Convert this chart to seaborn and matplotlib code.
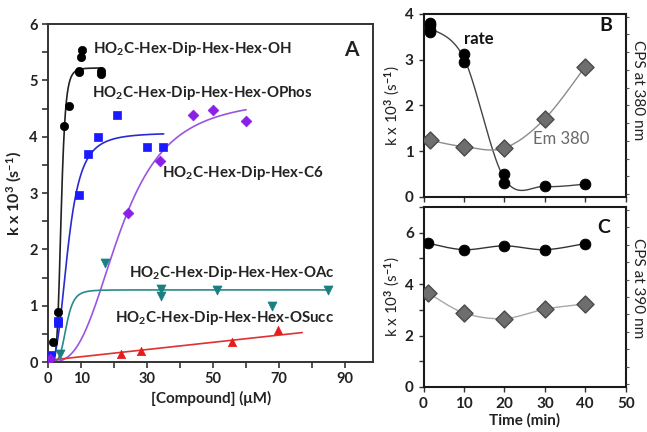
import numpy as np
import pandas as pd
import matplotlib
matplotlib.use("Agg")
import matplotlib.pyplot as plt
import seaborn as sns
from matplotlib.ticker import MultipleLocator, FixedLocator, NullFormatter

# ---------------- Panel A data ----------------
oh_x = [1.5, 3.0, 4.8, 6.3, 9.3, 9.3, 9.8, 10.1, 16.0, 16.0]
oh_y = [0.35, 0.88, 4.19, 4.55, 5.17, 5.15, 5.41, 5.53, 5.17, 5.12]
ophos_x = [0.5, 3.0, 3.0, 9.3, 12.1, 15.0, 21.0, 30.0, 34.8]
ophos_y = [0.12, 0.69, 0.73, 2.96, 3.70, 4.00, 4.38, 3.82, 3.82]
c6_x = [0.5, 24.1, 33.9, 44.0, 49.9, 60.0]
c6_y = [0.06, 2.64, 3.57, 4.38, 4.48, 4.28]
oac_x = [3.5, 17.2, 34.2, 34.2, 51.1, 67.8, 84.7]
oac_y = [0.15, 1.75, 1.29, 1.17, 1.27, 1.00, 1.27]
osucc_x = [22.0, 28.0, 55.8, 69.8]
osucc_y = [0.15, 0.20, 0.36, 0.56]

# Hill fit parameters: (Vmax, K, n, x_end)
oh_fit = [5.22, 3.9, 6.0, 16.2]
ophos_fit = [4.07, 6.0, 3.0, 35.0]
c6_fit = [4.70, 22.0, 3.0, 60.0]
oac_fit = [1.28, 5.5, 5.0, 85.0]
# linear fit: (intercept, slope, x_end)
osucc_fit = [0.03, 0.0064, 77.0]

labels_A = ["HO$_2$C-Hex-Dip-Hex-Hex-OH", "HO$_2$C-Hex-Dip-Hex-Hex-OPhos",
            "HO$_2$C-Hex-Dip-Hex-C6", "HO$_2$C-Hex-Dip-Hex-Hex-OAc",
            "HO$_2$C-Hex-Dip-Hex-Hex-OSucc"]
xticks_A = [0, 10, 30, 50, 70, 90]

# ---------------- Panel B data ----------------
b_rate_t = [1.5, 1.5, 1.5, 1.5, 10, 10, 20, 20, 30, 40]
b_rate = [3.80, 3.75, 3.65, 3.60, 3.13, 2.94, 0.50, 0.30, 0.23, 0.28]
b_em_t = [1.5, 10, 20, 30, 40]
b_em = [1.24, 1.10, 1.07, 1.71, 2.85]

# ---------------- Panel C data ----------------
c_t = [1.2, 10, 20, 30, 40]
c_rate = [5.59, 5.34, 5.49, 5.34, 5.58]
c_em = [3.65, 2.88, 2.66, 3.03, 3.23]

# ---------------- style ----------------
sns.set_style("ticks")
plt.rcParams['font.family'] = ['Lato', 'DejaVu Sans']
plt.rcParams['mathtext.fontset'] = 'custom'
plt.rcParams['mathtext.rm'] = 'Lato:bold'
plt.rcParams['mathtext.bf'] = 'Lato:bold'
plt.rcParams['mathtext.it'] = 'Lato:bold'
plt.rcParams['axes.linewidth'] = 1.4
TXT = '#222222'


def hill(p):
    v, k, n, xe = p
    xs = np.linspace(0, xe, 400)
    return xs, v * xs ** n / (k ** n + xs ** n)


def smooth(x, y, n=40):
    P = np.column_stack([np.asarray(x, float), np.asarray(y, float)])
    pts = np.vstack([P[0], P, P[-1]])
    out = []
    t = np.linspace(0, 1, n)[:, None]
    for i in range(1, len(pts) - 2):
        p0, p1, p2, p3 = pts[i - 1:i + 3]
        seg = 0.5 * ((2 * p1) + (-p0 + p2) * t + (2 * p0 - 5 * p1 + 4 * p2 - p3) * t ** 2
                     + (-p0 + 3 * p1 - 3 * p2 + p3) * t ** 3)
        out.append(seg)
    s = np.vstack(out)
    return s[:, 0], s[:, 1]


fig = plt.figure(figsize=(6.47, 4.32), dpi=100)
axA = fig.add_axes([0.0746, 0.162, 0.5019, 0.7824])
axB = fig.add_axes([0.6546, 0.544, 0.3125, 0.4236])
axC = fig.add_axes([0.6546, 0.1042, 0.3125, 0.4166])

# ---------- Panel A ----------
series = [
    (oh_x, oh_y, oh_fit, 'black', '#222222', 'o', 36),
    (ophos_x, ophos_y, ophos_fit, '#1a1aff', '#2a2ad0', 's', 30),
    (c6_x, c6_y, c6_fit, '#8a1fe6', '#9a55e0', 'D', 30),
    (oac_x, oac_y, oac_fit, '#1a7f80', '#2a8a8a', 'v', 42),
]
for xs, ys, fit, mc, lc, mk, sz in series:
    fx, fy = hill(fit)
    sns.lineplot(x=fx, y=fy, ax=axA, color=lc, lw=1.2, sort=False, estimator=None)
    sns.scatterplot(x=xs, y=ys, ax=axA, color=mc, marker=mk, s=sz, edgecolor=mc, linewidth=0.5, zorder=5)

a0, a1, xe = osucc_fit
lx = np.array([0.0, xe])
sns.lineplot(x=lx, y=a0 + a1 * lx, ax=axA, color='#e03030', lw=1.2, estimator=None)
sns.scatterplot(x=osucc_x, y=osucc_y, ax=axA, color='#e51c1c', marker='^', s=36,
                edgecolor='#e51c1c', linewidth=0.5, zorder=5)

axA.set_xlim(0, 98.5)
axA.set_ylim(0, 6)
axA.xaxis.set_major_locator(MultipleLocator(10))
axA.xaxis.set_major_formatter(matplotlib.ticker.FuncFormatter(
    lambda v, p: str(int(round(v))) if int(round(v)) in xticks_A else ''))
axA.yaxis.set_major_locator(MultipleLocator(1))
axA.yaxis.set_minor_locator(MultipleLocator(0.5))
axA.tick_params(which='both', direction='out', length=4, width=1.2, colors='#333333',
                labelsize=10.5, labelcolor=TXT)
for lab in axA.get_xticklabels() + axA.get_yticklabels():
    lab.set_fontweight('bold')
axA.set_xlabel('[Compound] (\u03bcM)', fontsize=11, fontweight='bold', color=TXT, labelpad=3)
axA.set_ylabel('k x 10$^3$ (s$^{-1}$)', fontsize=11.5, fontweight='bold', color=TXT, labelpad=4)

lab_pos = [(13.6, 5.56), (13.3, 4.77), (34.5, 3.35), (24.5, 1.58), (20.2, 0.78)]
for (tx, ty), txt in zip(lab_pos, labels_A):
    axA.text(tx, ty, txt, fontsize=10.8, fontweight='bold', color=TXT, ha='left', va='center')
axA.text(92.0, 5.54, 'A', fontsize=15, fontweight='bold', color=TXT, ha='center', va='center')
for s in axA.spines.values():
    s.set_color('#333333')

# ---------- Panel B ----------
dfB = pd.DataFrame({'t': b_rate_t, 'k': b_rate})
mB = dfB.groupby('t')['k'].mean()
sx, sy = smooth(mB.index.values, mB.values)
sns.lineplot(x=sx, y=sy, ax=axB, color='#444444', lw=1.0, sort=False, estimator=None)
ex, ey = smooth(b_em_t, b_em)
sns.lineplot(x=ex, y=ey, ax=axB, color='#8c8c8c', lw=1.0, sort=False, estimator=None)
sns.scatterplot(x=b_rate_t, y=b_rate, ax=axB, color='black', marker='o', s=60, edgecolor='black', zorder=5)
sns.scatterplot(x=b_em_t, y=b_em, ax=axB, color='#6e6e6e', marker='D', s=75,
                edgecolor='#4a4a4a', linewidth=1.0, zorder=5)
axB.set_xlim(0, 50)
axB.set_ylim(0, 4)
axB.xaxis.set_major_locator(MultipleLocator(10))
axB.xaxis.set_major_formatter(NullFormatter())
axB.yaxis.set_major_locator(MultipleLocator(1))
axB.text(10.1, 3.45, 'rate', fontsize=12, fontweight='bold', color='#111111', ha='left', va='center')
axB.text(27.0, 1.27, 'Em 380', fontsize=12, color='#6a6a6a', ha='left', va='center')
axB.text(45.0, 3.74, 'B', fontsize=14, fontweight='bold', color='#111111', ha='center', va='center')

# ---------- Panel C ----------
cx, cy = smooth(c_t, c_rate)
sns.lineplot(x=cx, y=cy, ax=axC, color='#333333', lw=1.0, sort=False, estimator=None)
dx, dy = smooth(c_t, c_em)
sns.lineplot(x=dx, y=dy, ax=axC, color='#a8a8a8', lw=1.0, sort=False, estimator=None)
sns.scatterplot(x=c_t, y=c_rate, ax=axC, color='black', marker='o', s=60, edgecolor='black', zorder=5)
sns.scatterplot(x=c_t, y=c_em, ax=axC, color='#6e6e6e', marker='D', s=75,
                edgecolor='#4a4a4a', linewidth=1.0, zorder=5)
axC.set_xlim(0, 50)
axC.set_ylim(0, 7)
axC.xaxis.set_major_locator(MultipleLocator(10))
axC.yaxis.set_major_locator(FixedLocator([0, 2, 4, 6]))
axC.yaxis.set_minor_locator(MultipleLocator(1))
axC.set_xlabel('Time (min)', fontsize=11, fontweight='bold', color=TXT, labelpad=2)
axC.text(44.6, 6.2, 'C', fontsize=14, fontweight='bold', color='#111111', ha='center', va='center')

for ax, rl, ly in ((axB, 'CPS at 380 nm', 1 - 90 / 432), (axC, 'CPS at 390 nm', 1 - 288 / 432)):
    ax.tick_params(which='both', direction='out', length=3.5, width=1.0, colors='#333333',
                   labelsize=11, labelcolor=TXT)
    for lab in ax.get_xticklabels() + ax.get_yticklabels():
        lab.set_fontweight('bold')
    ax.set_ylabel('k x 10$^3$ (s$^{-1}$)', fontsize=11, color=TXT, labelpad=2)
    for s in ax.spines.values():
        s.set_color('#1a1a1a')
        s.set_linewidth(1.5)
    tw = ax.twinx()
    tw.set_ylim(0, 1)
    tw.yaxis.set_major_locator(FixedLocator(np.linspace(0.015, 0.985, 11)))
    tw.yaxis.set_major_formatter(NullFormatter())
    tw.tick_params(direction='out', length=2.5, width=0.8, colors='#555555')
    for s in tw.spines.values():
        s.set_visible(False)
    fig.text(637.5 / 647, ly, rl, rotation=270, fontsize=11, color=TXT,
             ha='center', va='center')

fig.savefig('out.png', dpi=100)
